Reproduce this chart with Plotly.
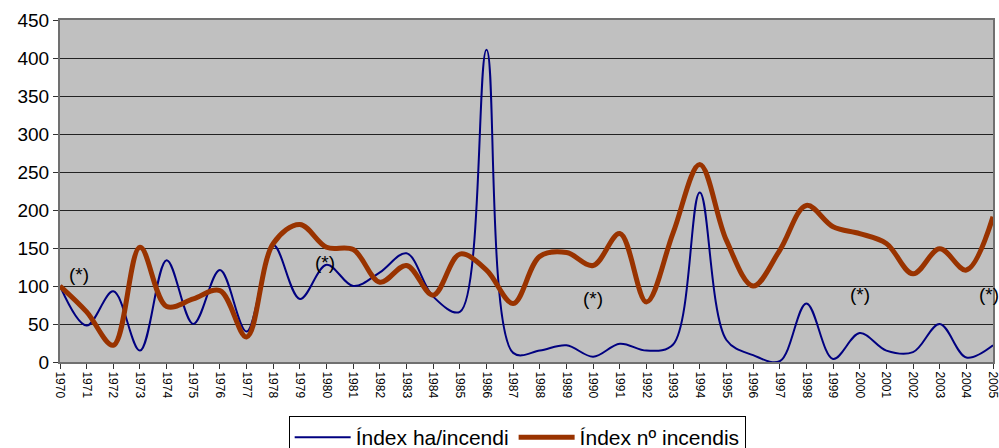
import plotly.graph_objects as go

# Index series (1970 = 100)
years = list(range(1970, 2006))
index_ha = [100, 48, 93, 15, 134, 50, 121, 40, 154, 83,
            128, 100, 118, 143, 86, 66, 411, 12, 15, 22,
            7, 24, 15, 23, 223, 29, 9, 1, 77, 4,
            38, 15, 13, 50, 6, 22]
index_num = [100, 66, 22, 151, 73, 83, 94, 33, 156, 181,
             151, 148, 105, 127, 88, 142, 121, 77, 139, 144,
             127, 169, 79, 170, 260, 160, 100, 147, 206, 178,
             169, 156, 116, 149, 121, 191]

# "(*)" markers
note_x = [1970.7, 1979.95, 1990.0, 2000.0, 2004.85]
note_y = [115, 131, 84, 89, 89]

FONT = "Liberation Sans, Arial, sans-serif"

fig = go.Figure()

fig.add_trace(go.Scatter(
    x=years, y=index_ha, mode="lines", name="Índex ha/incendi",
    line=dict(color="#000080", width=2, shape="spline", smoothing=1.0),
))
fig.add_trace(go.Scatter(
    x=years, y=index_num, mode="lines", name="Índex nº incendis",
    line=dict(color="#993300", width=5, shape="spline", smoothing=1.0),
))

for nx, ny in zip(note_x, note_y):
    fig.add_annotation(x=nx, y=ny, text="(*)", showarrow=False,
                       font=dict(family=FONT, size=19, color="black"))

fig.update_layout(
    width=999, height=448,
    margin=dict(l=60, r=6, t=20, b=86, autoexpand=False),
    paper_bgcolor="white",
    plot_bgcolor="#C0C0C0",
    font=dict(family=FONT, color="black"),
    showlegend=True,
    legend=dict(
        orientation="h", x=0.49, xanchor="center", y=-0.158, yanchor="top",
        bgcolor="white", bordercolor="black", borderwidth=1,
        font=dict(family=FONT, size=21), itemwidth=56,
    ),
)

fig.update_xaxes(
    range=[1970, 2005], tickmode="linear", tick0=1970, dtick=1,
    tickangle=90, tickfont=dict(size=12), ticklabeloverflow="allow",
    ticks="outside", ticklen=5, tickcolor="#333333",
    showgrid=False, zeroline=False, automargin=False,
    showline=True, linecolor="#707070", linewidth=2, mirror=True,
)
fig.update_yaxes(
    range=[0, 450], tick0=0, dtick=50,
    tickfont=dict(size=19),
    ticks="outside", ticklen=5, tickcolor="#333333",
    showgrid=True, gridcolor="#222222", gridwidth=1,
    zeroline=False, automargin=False,
    showline=True, linecolor="#707070", linewidth=2, mirror=True,
)

# drop the default page margin so the 999x448 figure fills the window
no_margin = ("document.body.style.margin='0';"
             "document.body.style.overflow='hidden';"
             "document.documentElement.style.overflow='hidden';")
fig.write_html("out.html", post_script=no_margin,
               config={"displayModeBar": False})
